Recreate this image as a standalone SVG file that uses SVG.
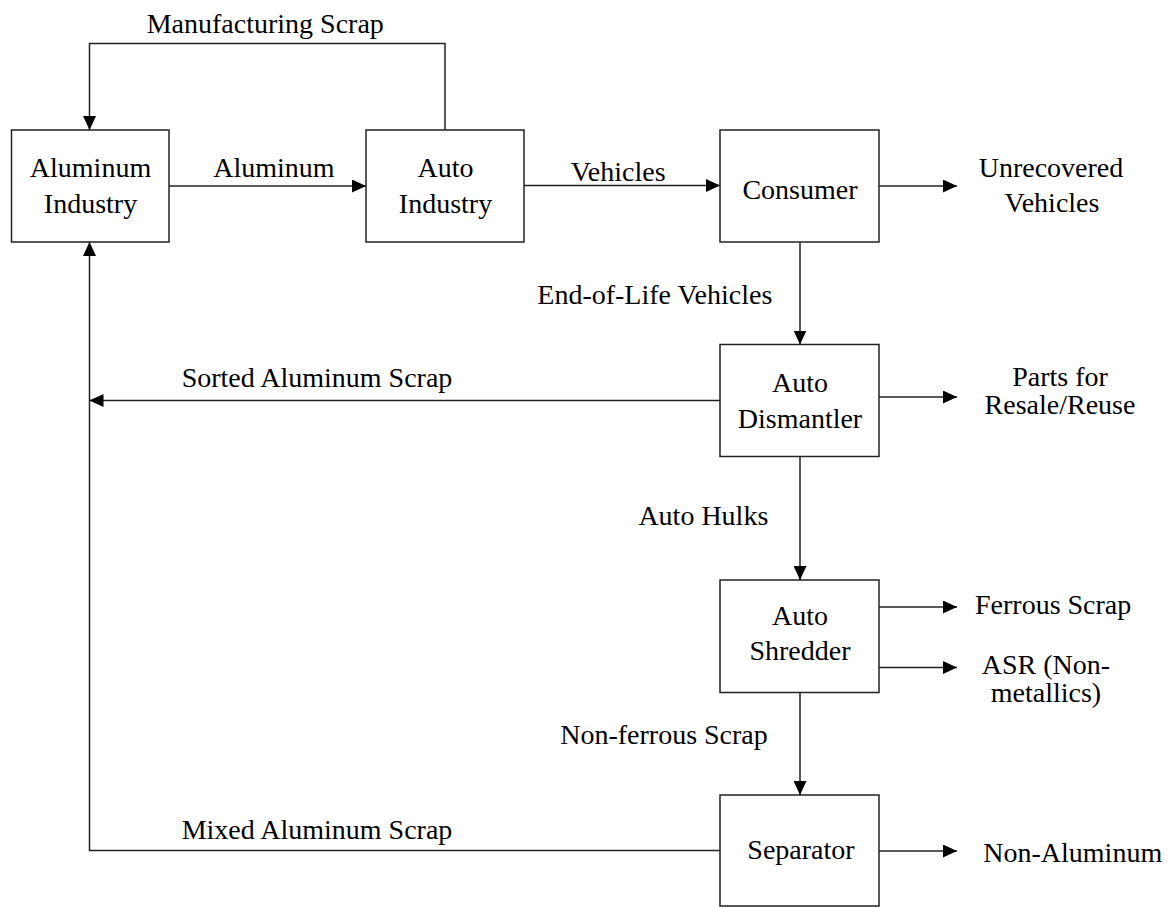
<svg xmlns="http://www.w3.org/2000/svg" width="1173" height="907" viewBox="0 0 1173 907">
<style>
  .box { fill: #fff; stroke: #222; stroke-width: 1.5; }
  .conn { fill: none; stroke: #222; stroke-width: 1.5; }
  text { font-family: "Liberation Serif", "Times New Roman", serif; font-size: 28px; fill: #000; }
  .c { text-anchor: middle; }
</style>
<defs>
  <marker id="arr" markerUnits="userSpaceOnUse" markerWidth="14" markerHeight="13" refX="14" refY="6.5" orient="auto">
    <path d="M0,0 L14,6.5 L0,13 z" fill="#000"/>
  </marker>
</defs>
<rect width="1173" height="907" fill="#fff"/>
<g id="connectors">
  <path class="conn" d="M445,130 V43.5 H89.5 V130" marker-end="url(#arr)"/>
  <path class="conn" d="M169,186 H366" marker-end="url(#arr)"/>
  <path class="conn" d="M524,185.5 H720" marker-end="url(#arr)"/>
  <path class="conn" d="M879,186 H957" marker-end="url(#arr)"/>
  <path class="conn" d="M800,242 V344.5" marker-end="url(#arr)"/>
  <path class="conn" d="M720,400.5 H89.5" marker-end="url(#arr)"/>
  <path class="conn" d="M879,397 H957" marker-end="url(#arr)"/>
  <path class="conn" d="M800,456.5 V580" marker-end="url(#arr)"/>
  <path class="conn" d="M879,607 H957" marker-end="url(#arr)"/>
  <path class="conn" d="M879,667.5 H957" marker-end="url(#arr)"/>
  <path class="conn" d="M800,692.5 V795" marker-end="url(#arr)"/>
  <path class="conn" d="M720,850.5 H89.5 V242" marker-end="url(#arr)"/>
  <path class="conn" d="M879,851 H957" marker-end="url(#arr)"/>
  <text x="146.7" y="33.3">Manufacturing Scrap</text>
  <text x="213.3" y="177">Aluminum</text>
  <text x="570.7" y="181">Vehicles</text>
  <text class="c" x="1051" y="177">Unrecovered</text>
  <text class="c" x="1052" y="212">Vehicles</text>
  <text x="537.3" y="304">End-of-Life Vehicles</text>
  <text x="181.7" y="386.7">Sorted Aluminum Scrap</text>
  <text class="c" x="1060" y="386">Parts for</text>
  <text class="c" x="1060" y="414">Resale/Reuse</text>
  <text x="638.4" y="525">Auto Hulks</text>
  <text x="975" y="614">Ferrous Scrap</text>
  <text class="c" x="1046" y="674">ASR (Non-</text>
  <text class="c" x="1046" y="702">metallics)</text>
  <text x="560.2" y="744">Non-ferrous Scrap</text>
  <text x="181.7" y="839.3">Mixed Aluminum Scrap</text>
  <text x="983.3" y="862">Non-Aluminum</text>
</g>
<g id="aluminum-industry">
  <rect class="box" x="11.5" y="130" width="157.5" height="112"/>
  <text class="c" x="90.5" y="177">Aluminum</text>
  <text class="c" x="90.5" y="213">Industry</text>
</g>
<g id="auto-industry">
  <rect class="box" x="366" y="130" width="158" height="112"/>
  <text class="c" x="445.5" y="177">Auto</text>
  <text class="c" x="445.5" y="213">Industry</text>
</g>
<g id="consumer">
  <rect class="box" x="720" y="130" width="159" height="112"/>
  <text class="c" x="800" y="199">Consumer</text>
</g>
<g id="auto-dismantler">
  <rect class="box" x="720" y="344.5" width="159" height="112"/>
  <text class="c" x="800" y="392">Auto</text>
  <text class="c" x="800" y="428">Dismantler</text>
</g>
<g id="auto-shredder">
  <rect class="box" x="720" y="580" width="159" height="112.5"/>
  <text class="c" x="800" y="625">Auto</text>
  <text class="c" x="800" y="660">Shredder</text>
</g>
<g id="separator">
  <rect class="box" x="720" y="795" width="159" height="111"/>
  <text class="c" x="801" y="859">Separator</text>
</g>
</svg>
